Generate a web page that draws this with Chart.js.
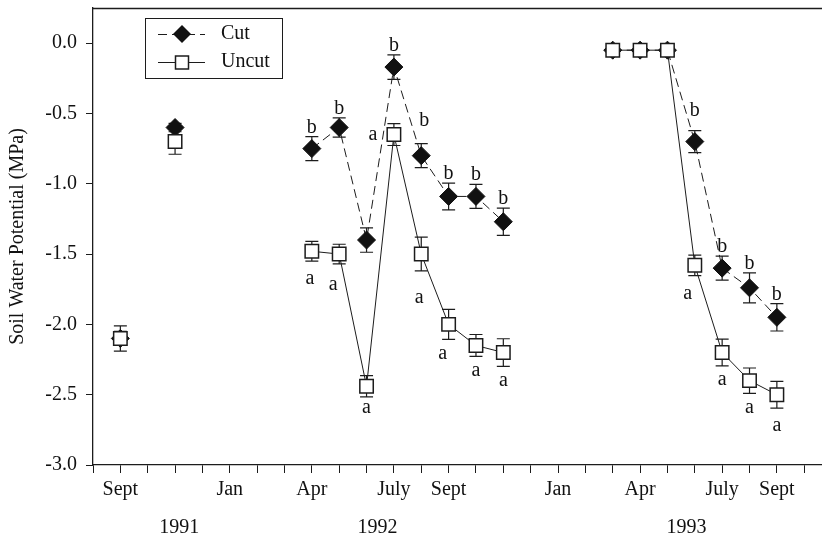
<!DOCTYPE html>
<html>
<head>
<meta charset="utf-8">
<script src="https://cdn.jsdelivr.net/npm/chart.js@4"></script>
<style>
  html, body { margin: 0; padding: 0; background: #fff; }
</style>
</head>
<body>
<canvas id="chart" width="822" height="539"></canvas>
<script>
// x values are months counted from Aug 1991 (= 0)
const months = [1, 3, 8, 9, 10, 11, 12, 13, 14, 15, 19, 20, 21, 22, 23, 24, 25];
// points in different groups are not joined by a line
const groups = [0, 1, 2, 2, 2, 2, 2, 2, 2, 2, 3, 3, 3, 3, 3, 3, 3];

const cutValues = [-2.10, -0.60, -0.75, -0.60, -1.40, -0.17, -0.80, -1.09, -1.09, -1.27,
                   -0.05, -0.05, -0.05, -0.70, -1.60, -1.74, -1.95];
const cutErrors = [0.05, 0.03, 0.085, 0.068, 0.087, 0.087, 0.085, 0.095, 0.085, 0.097,
                   0.02, 0.02, 0.02, 0.078, 0.085, 0.107, 0.097];
const uncutValues = [-2.10, -0.70, -1.48, -1.50, -2.44, -0.65, -1.50, -2.00, -2.15, -2.20,
                     -0.05, -0.05, -0.05, -1.58, -2.20, -2.40, -2.50];
const uncutErrors = [0.09, 0.09, 0.07, 0.07, 0.076, 0.078, 0.12, 0.107, 0.078, 0.098,
                     0.02, 0.02, 0.02, 0.073, 0.095, 0.09, 0.095];

const cutLetters = ['', '', 'b', 'b', '', 'b', 'b', 'b', 'b', 'b', '', '', '', 'b', 'b', 'b', 'b'];
const uncutLetters = ['', '', 'a', 'a', 'a', 'a', 'a', 'a', 'a', 'a', '', '', '', 'a', 'a', 'a', 'a'];

const monthTicks = [1, 5, 8, 11, 13, 17, 20, 23, 25];
const monthLabels = ['Sept', 'Jan', 'Apr', 'July', 'Sept', 'Jan', 'Apr', 'July', 'Sept'];
const yearTicks = [3.15, 10.4, 21.7];
const yearLabels = ['1991', '1992', '1993'];
const yTicks = [0, -0.5, -1.0, -1.5, -2.0, -2.5, -3.0];

const FONT = "'Liberation Serif', 'Times New Roman', serif";
const INK = '#1c1c1c';

// small hand nudges for the significance letters [dx, dy]
const cutNudge = { 6: [3, -14], 13: [0, -11] };
const uncutNudge = { 2: [-2, 3], 3: [-6, 7], 4: [0, -3], 5: [-21, -25], 6: [-2, 13], 7: [-6, 0], 13: [-7, 4], 16: [0, 3] };

function toPoints(values) {
    const pts = [];
    months.forEach((m, i) => {
        if (i > 0 && groups[i] !== groups[i - 1]) {
            pts.push({ x: (m + months[i - 1]) / 2, y: null });
        }
        pts.push({ x: m, y: values[i] });
    });
    return pts;
}

const extras = {
    id: 'extras',
    beforeDatasetsDraw(chart) {
        const { ctx, scales: { x, y } } = chart;
        ctx.save();
        ctx.strokeStyle = INK;
        ctx.lineWidth = 1.2;
        [[cutValues, cutErrors], [uncutValues, uncutErrors]].forEach(([vals, errs]) => {
            months.forEach((m, i) => {
                const px = x.getPixelForValue(m);
                const top = y.getPixelForValue(vals[i] + errs[i]);
                const bot = y.getPixelForValue(vals[i] - errs[i]);
                ctx.beginPath();
                ctx.moveTo(px, top); ctx.lineTo(px, bot);
                ctx.moveTo(px - 6.5, top); ctx.lineTo(px + 6.5, top);
                ctx.moveTo(px - 6.5, bot); ctx.lineTo(px + 6.5, bot);
                ctx.stroke();
            });
        });
        ctx.restore();
    },
    afterDraw(chart) {
        const { ctx, chartArea, scales: { x, y } } = chart;
        ctx.save();

        // top frame line
        ctx.strokeStyle = INK;
        ctx.lineWidth = 1.3;
        ctx.beginPath();
        ctx.moveTo(chartArea.left, chartArea.top + 0.5);
        ctx.lineTo(chartArea.right, chartArea.top + 0.5);
        ctx.stroke();

        // significance letters
        ctx.fillStyle = '#111';
        ctx.font = '20px ' + FONT;
        ctx.textAlign = 'center';
        ctx.textBaseline = 'alphabetic';
        months.forEach((m, i) => {
            const px = x.getPixelForValue(m);
            if (cutLetters[i]) {
                const n = cutNudge[i] || [0, 0];
                const capTop = y.getPixelForValue(cutValues[i] + cutErrors[i]);
                ctx.fillText(cutLetters[i], px + n[0], capTop - 4 + n[1]);
            }
            if (uncutLetters[i]) {
                const n = uncutNudge[i] || [0, 0];
                const capBot = y.getPixelForValue(uncutValues[i] - uncutErrors[i]);
                ctx.fillText(uncutLetters[i], px + n[0], capBot + 19.5 + n[1]);
            }
        });

        // year labels under the month labels
        ctx.textBaseline = 'middle';
        yearTicks.forEach((v, i) => {
            ctx.fillText(yearLabels[i], x.getPixelForValue(v), 528);
        });

        // legend
        ctx.strokeStyle = INK;
        ctx.lineWidth = 1;
        ctx.strokeRect(145.5, 18.5, 137, 60);
        ctx.setLineDash([9, 5]);
        ctx.beginPath(); ctx.moveTo(158, 34.5); ctx.lineTo(205, 34.5); ctx.stroke();
        ctx.setLineDash([]);
        ctx.beginPath(); ctx.moveTo(158, 62.5); ctx.lineTo(205, 62.5); ctx.stroke();
        ctx.fillStyle = '#111';
        ctx.beginPath();
        ctx.moveTo(182, 25); ctx.lineTo(191, 34); ctx.lineTo(182, 43); ctx.lineTo(173, 34);
        ctx.closePath(); ctx.fill();
        ctx.fillStyle = '#fff';
        ctx.lineWidth = 1.5;
        ctx.fillRect(175.5, 56, 13, 13);
        ctx.strokeRect(175.5, 56, 13, 13);
        ctx.fillStyle = '#111';
        ctx.textAlign = 'left';
        ctx.textBaseline = 'middle';
        ctx.fillText('Cut', 221, 34);
        ctx.fillText('Uncut', 221, 62);

        ctx.restore();
    }
};

new Chart(document.getElementById('chart'), {
    type: 'line',
    data: {
        datasets: [
            {
                label: 'Cut',
                data: toPoints(cutValues),
                borderColor: INK,
                borderWidth: 1,
                borderDash: [9, 5],
                pointStyle: 'rectRot',
                pointRadius: 9,
                pointBackgroundColor: '#111',
                pointBorderColor: '#111',
                pointBorderWidth: 1,
                order: 1
            },
            {
                label: 'Uncut',
                data: toPoints(uncutValues),
                borderColor: INK,
                borderWidth: 1,
                pointStyle: 'rect',
                pointRadius: 9.5,
                pointBackgroundColor: '#fff',
                pointBorderColor: INK,
                pointBorderWidth: 1.5,
                order: 0
            }
        ]
    },
    options: {
        responsive: false,
        animation: false,
        devicePixelRatio: 1,
        spanGaps: false,
        layout: { autoPadding: false, padding: { top: 8, left: 0, right: 0, bottom: 0 } },
        plugins: {
            legend: { display: false },
            tooltip: { enabled: false }
        },
        scales: {
            x: {
                type: 'linear',
                min: 0,
                max: 26.65,
                afterBuildTicks: (scale) => {
                    scale.ticks = Array.from({ length: 27 }, (_, i) => ({ value: i }));
                },
                afterFit: (scale) => {
                    scale.height = 74;
                    scale.paddingLeft = 0;
                    scale.paddingRight = 0;
                },
                border: { display: true, color: INK, width: 1.3 },
                grid: { display: true, drawOnChartArea: false, drawTicks: true, tickLength: 8, color: INK },
                ticks: {
                    autoSkip: false,
                    maxRotation: 0,
                    minRotation: 0,
                    padding: 5,
                    color: '#111',
                    font: { family: FONT, size: 20 },
                    callback: (v) => {
                        const idx = monthTicks.indexOf(v);
                        return idx >= 0 ? monthLabels[idx] : '';
                    }
                }
            },
            y: {
                min: -3.0,
                max: 0.25,
                afterBuildTicks: (scale) => {
                    scale.ticks = yTicks.map(v => ({ value: v }));
                },
                afterFit: (scale) => {
                    scale.width = 93;
                    scale.paddingTop = 0;
                    scale.paddingBottom = 0;
                },
                border: { display: true, color: INK, width: 1.3 },
                grid: { display: true, drawOnChartArea: false, drawTicks: true, tickLength: 7, color: INK },
                title: {
                    display: true,
                    text: 'Soil Water Potential (MPa)',
                    color: '#111',
                    font: { family: FONT, size: 20 },
                    padding: { top: 6, bottom: 0 }
                },
                ticks: {
                    padding: 9,
                    color: '#111',
                    font: { family: FONT, size: 20 },
                    callback: (v) => v.toFixed(1)
                }
            }
        }
    },
    plugins: [extras]
});
</script>
</body>
</html>
